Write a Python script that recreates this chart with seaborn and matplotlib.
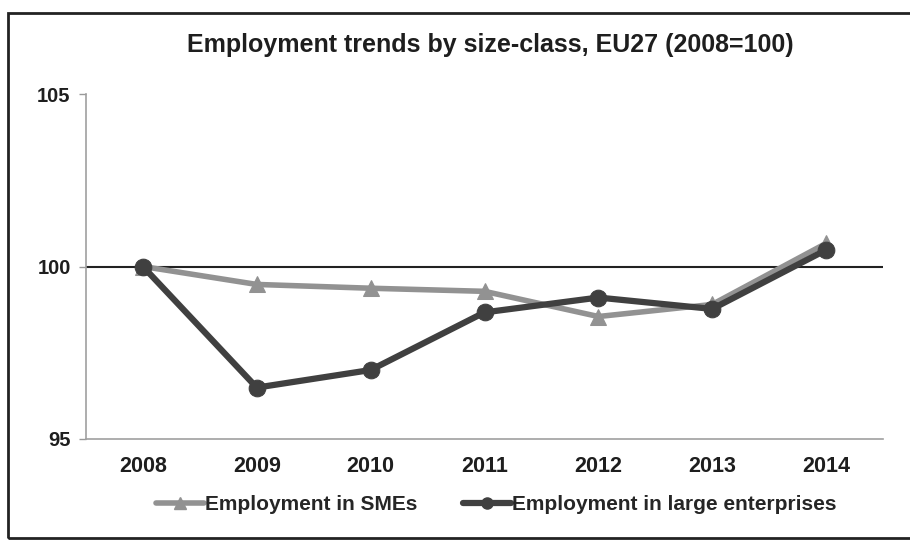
import matplotlib
matplotlib.use("Agg")
import matplotlib.pyplot as plt
import seaborn as sns
import pandas as pd
from matplotlib.lines import Line2D
from matplotlib.patches import Rectangle

years = ["2008", "2009", "2010", "2011", "2012", "2013", "2014"]
sme = [100.0, 99.48, 99.37, 99.28, 98.55, 98.9, 100.67]
large = [100.0, 96.49, 97.0, 98.67, 99.1, 98.77, 100.48]
series_names = ["Employment in SMEs", "Employment in large enterprises"]
title = "Employment trends by size-class, EU27 (2008=100)"
yticks = [95, 100, 105]

sns.set_theme(style="white")
plt.rcParams["font.family"] = ["Liberation Sans", "DejaVu Sans"]

df = pd.DataFrame({
    "year": years * 2,
    "value": sme + large,
    "series": [series_names[0]] * len(years) + [series_names[1]] * len(years),
})

c_sme = "#929292"
c_large = "#404040"
txt = "#1e1e1e"

fig = plt.figure(figsize=(9.10, 5.44), dpi=100)
ax = fig.add_axes([86 / 910, 1 - 439 / 544, (883 - 86) / 910, (439 - 94) / 544])

sns.lineplot(data=df[df.series == series_names[0]], x="year", y="value", ax=ax,
             color=c_sme, linewidth=4, marker="^", markersize=11,
             markeredgecolor=c_sme, sort=False, legend=False, zorder=3)
sns.lineplot(data=df[df.series == series_names[1]], x="year", y="value", ax=ax,
             color=c_large, linewidth=4.5, marker="o", markersize=12,
             markeredgecolor=c_large, sort=False, legend=False, zorder=4)

ax.axhline(100, color="#222222", linewidth=1.5, zorder=2)

ax.set_xlim(-0.5, len(years) - 0.5)
ax.set_ylim(95, 105)
ax.set_yticks(yticks)
ax.set_yticklabels([str(t) for t in yticks], fontsize=14.5, fontweight="bold", color=txt)
ax.set_xticks(range(len(years)))
ax.set_xticklabels(years, fontsize=15.5, fontweight="bold", color=txt)
ax.set_xticks([i - 0.5 for i in range(len(years) + 1)], minor=True)
ax.tick_params(axis="x", which="major", length=0, pad=12)
ax.tick_params(axis="x", which="minor", length=4, color="#999999", direction="out", width=1)
ax.tick_params(axis="y", length=5, color="#999999", width=1, pad=6, left=True)
ax.set_xlabel("")
ax.set_ylabel("")
for s in ["top", "right"]:
    ax.spines[s].set_visible(False)
for s in ["left", "bottom"]:
    ax.spines[s].set_color("#a0a0a0")
    ax.spines[s].set_linewidth(1.2)

fig.text(490 / 910, 1 - 45 / 544, title, ha="center", va="center",
         fontsize=18, fontweight="bold", color=txt)

handles = [
    Line2D([], [], color=c_sme, linewidth=4, marker="^", markersize=8),
    Line2D([], [], color=c_large, linewidth=4.5, marker="o", markersize=8),
]
fig.legend(handles, series_names, loc="center", bbox_to_anchor=(496 / 910, 1 - 505 / 544),
           ncol=2, frameon=False, prop={"weight": "bold", "size": 15},
           handlelength=2.3, handletextpad=0.05, columnspacing=2.2)

fig.patches.append(Rectangle((8 / 910, 6 / 544), 1.1, 1 - 19 / 544, transform=fig.transFigure,
                             fill=False, edgecolor="#222222", linewidth=2))

fig.savefig("out.png", dpi=100)
